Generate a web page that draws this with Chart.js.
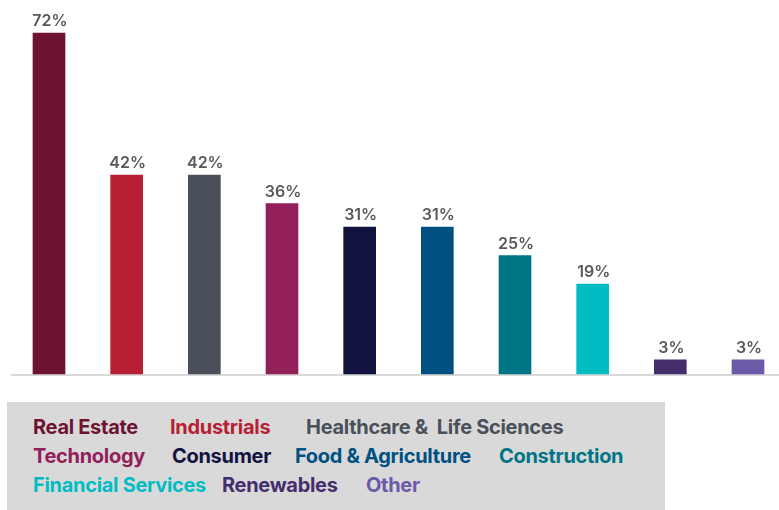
<!DOCTYPE html>
<html>
<head>
<meta charset="utf-8">
<script src="https://cdn.jsdelivr.net/npm/chart.js@4/dist/chart.umd.min.js"></script>
<style>
  html, body { margin: 0; padding: 0; background: #ffffff; overflow: hidden; }
  #wrap { position: relative; width: 779px; height: 510px; }
  #chart { position: absolute; left: 0; top: 0; }
  #key {
    position: absolute; left: 7px; top: 402px; width: 658px; height: 108px;
    background: #d9d9d9;
    font-family: Inter, "Open Sans", sans-serif; font-weight: 700; font-size: 20px;
    line-height: 20px; letter-spacing: -0.3px;
  }
  #key span { position: absolute; white-space: pre; }
</style>
</head>
<body>
<div id="wrap">
  <canvas id="chart" width="779" height="510"></canvas>
  <div id="key"></div>
</div>
<script>
// Sectors and their shares (%)
const categories = [
  "Real Estate", "Industrials", "Healthcare &  Life Sciences", "Technology", "Consumer",
  "Food & Agriculture", "Construction", "Financial Services", "Renewables", "Other"
];
const shares = [72, 42, 42, 36, 31, 31, 25, 19, 3, 3];
const sectorColors = [
  "#6e1232", "#b71f34", "#4a5059", "#921e5a", "#12133f",
  "#005082", "#007586", "#00bdc4", "#452d6c", "#6b5aa8"
];

// Legend layout: row and left offset of each entry inside the grey box
const keyRows = [0, 0, 0, 1, 1, 1, 1, 2, 2, 2];
const keyLeft = [26, 163, 299, 26, 165, 288, 492, 26, 215, 359];

const key = document.getElementById("key");
categories.forEach((name, i) => {
  const s = document.createElement("span");
  s.textContent = name;
  s.style.color = sectorColors[i];
  s.style.left = keyLeft[i] + "px";
  s.style.top = (15 + keyRows[i] * 29) + "px";
  key.appendChild(s);
});

// Light baseline spanning the plot width
const baselinePlugin = {
  id: "baseline",
  beforeDatasetsDraw(chart) {
    const ctx = chart.ctx;
    const y = chart.scales.y.getPixelForValue(0) + 1;
    ctx.save();
    ctx.strokeStyle = "#d9d9d9";
    ctx.lineWidth = 2;
    ctx.beginPath();
    ctx.moveTo(11, y);
    ctx.lineTo(chart.width, y);
    ctx.stroke();
    ctx.restore();
  }
};

// Percentage labels above each bar
const valueLabels = {
  id: "valueLabels",
  afterDatasetsDraw(chart) {
    const ctx = chart.ctx;
    const meta = chart.getDatasetMeta(0);
    ctx.save();
    ctx.fillStyle = "#595959";
    ctx.font = "600 16px Inter, 'Open Sans', sans-serif";
    ctx.textAlign = "center";
    ctx.textBaseline = "alphabetic";
    meta.data.forEach((bar, i) => {
      ctx.fillText(shares[i] + "%", bar.x + 1, bar.y - 7);
    });
    ctx.restore();
  }
};

new Chart(document.getElementById("chart"), {
  type: "bar",
  data: {
    labels: categories,
    datasets: [{
      data: shares,
      backgroundColor: sectorColors,
      barThickness: 32,
      borderWidth: 0,
      clip: false
    }]
  },
  options: {
    responsive: false,
    animation: false,
    layout: { padding: { left: 49, right: 31, top: 33, bottom: 136 } },
    plugins: { legend: { display: false }, tooltip: { enabled: false } },
    scales: {
      x: { display: false, offset: false },
      y: { display: false, min: 0, max: 72 }
    }
  },
  plugins: [baselinePlugin, valueLabels]
});
</script>
</body>
</html>
